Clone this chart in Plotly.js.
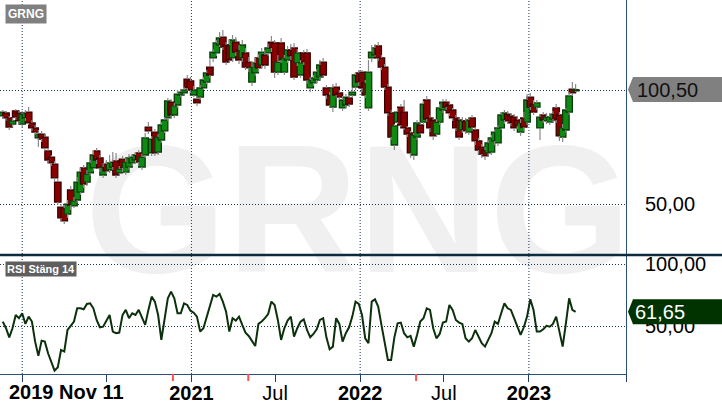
<!DOCTYPE html>
<html>
<head>
<meta charset="utf-8">
<script src="https://cdn.plot.ly/plotly-3.0.1.min.js"></script>
<style>
  html, body { margin: 0; padding: 0; background: #ffffff; }
  #chart { width: 722px; height: 410px; }
</style>
</head>
<body>
<div id="chart"></div>
<script>
// ---------------- data (weekly candles, GRNG) ----------------
const ticker = 'GRNG';
const rsiLabel = 'RSI Stäng 14';
const firstWeek = '2019-11-20';

const open = [
  88.9, 90.2, 88.0, 85.3, 91.1, 90.2, 85.3, 88.0, 90.6, 85.8,
  83.6, 79.2, 80.9, 79.6, 73.5, 70.8, 67.7, 59.8, 48.8, 48.4,
  45.7, 56.3, 49.3, 51.9, 55.4, 66.0, 59.8, 63.8, 66.0, 73.5,
  70.4, 62.9, 67.7, 65.1, 66.4, 69.1, 63.8, 69.9, 64.2, 66.4,
  68.2, 69.5, 72.6, 66.4, 71.7, 84.0, 72.6, 81.8, 73.0, 78.3,
  82.3, 88.0, 95.0, 89.3, 93.7, 98.1, 99.0, 105.1, 104.3, 98.1,
  96.3, 97.2, 101.2, 103.8, 110.4, 114.4, 116.6, 120.1, 123.6, 120.1,
  120.1, 114.4, 121.4, 117.9, 114.4, 116.6, 112.6, 103.8, 107.8, 114.4,
  111.3, 115.7, 116.6, 121.4, 121.0, 108.2, 121.0, 108.2, 113.5, 117.9,
  118.8, 112.2, 106.9, 116.6, 116.6, 101.2, 103.4, 104.7, 106.0, 112.6,
  101.2, 98.1, 92.8, 101.6, 99.0, 92.4, 93.7, 96.8, 98.1, 101.6,
  107.8, 108.2, 103.4, 92.4, 114.4, 115.7, 119.7, 114.4, 110.4, 101.6,
  90.2, 76.1, 86.2, 92.8, 90.6, 83.6, 81.4, 71.7, 79.6, 84.9,
  86.2, 95.9, 88.0, 87.1, 80.9, 86.2, 91.5, 95.0, 93.7, 91.5,
  88.0, 87.1, 82.7, 86.7, 81.8, 88.0, 82.7, 77.9, 75.2, 73.9,
  72.6, 73.0, 77.9, 77.0, 83.6, 87.1, 89.7, 88.9, 88.4, 87.1,
  81.8, 88.0, 86.2, 97.2, 94.1, 92.8, 83.6, 89.3, 86.7, 86.2,
  87.5, 92.4, 89.3, 79.6, 82.7, 90.6, 100.7, 99.9
];
const high = [
  91.5, 91.1, 88.9, 88.0, 91.9, 91.1, 91.1, 91.5, 92.8, 87.1,
  84.9, 82.7, 82.3, 80.9, 74.8, 71.7, 69.1, 61.1, 50.1, 49.7,
  51.9, 58.1, 53.2, 62.0, 66.0, 67.3, 65.1, 69.5, 73.9, 74.8,
  71.7, 68.2, 69.5, 71.7, 73.0, 72.6, 66.9, 71.3, 70.4, 72.1,
  71.7, 73.0, 73.9, 72.1, 81.4, 86.2, 80.1, 83.1, 80.9, 86.2,
  88.4, 96.8, 96.3, 94.6, 100.3, 100.7, 101.6, 106.9, 106.0, 102.1,
  97.7, 102.5, 106.0, 109.1, 114.4, 118.3, 122.3, 125.8, 126.7, 121.4,
  122.3, 124.5, 123.6, 120.1, 122.3, 118.8, 114.8, 112.6, 114.4, 116.1,
  118.8, 117.9, 120.5, 124.1, 122.3, 115.7, 123.2, 115.7, 119.7, 120.5,
  121.0, 118.3, 113.5, 117.9, 118.3, 106.0, 106.9, 109.5, 113.5, 114.4,
  102.5, 99.4, 102.9, 103.4, 100.3, 97.7, 98.5, 98.1, 101.2, 108.2,
  109.1, 109.1, 104.7, 113.5, 120.1, 120.5, 121.4, 115.7, 111.7, 102.9,
  91.5, 85.3, 92.4, 94.1, 95.9, 84.5, 82.3, 81.4, 87.1, 86.2,
  95.5, 97.7, 89.3, 88.4, 87.5, 94.1, 96.3, 96.3, 95.0, 92.4,
  89.3, 88.0, 88.4, 88.0, 88.4, 89.3, 84.0, 79.2, 76.5, 75.2,
  78.3, 80.5, 83.1, 84.9, 90.6, 91.5, 91.1, 90.2, 89.7, 88.4,
  87.5, 90.6, 98.5, 99.0, 95.9, 95.9, 89.7, 90.6, 90.2, 89.7,
  91.1, 94.1, 90.6, 85.3, 92.4, 99.4, 103.8, 102.9
];
const low = [
  88.0, 86.7, 82.7, 84.0, 87.1, 85.3, 84.0, 86.7, 84.9, 82.3,
  80.5, 75.2, 77.4, 73.5, 68.2, 66.9, 60.3, 49.7, 42.7, 41.3,
  44.0, 47.5, 48.4, 50.6, 54.1, 57.2, 58.1, 62.5, 64.7, 67.7,
  64.2, 61.6, 63.3, 63.8, 65.1, 61.6, 62.5, 64.2, 62.9, 65.1,
  66.9, 68.2, 66.9, 65.1, 70.4, 80.9, 71.3, 71.3, 71.7, 77.0,
  81.4, 86.7, 88.0, 88.0, 92.4, 97.2, 98.1, 99.9, 99.0, 97.2,
  93.3, 95.9, 100.3, 102.9, 105.6, 112.6, 115.3, 119.2, 117.9, 111.3,
  112.2, 112.6, 115.3, 111.7, 112.6, 109.1, 108.2, 102.1, 106.5, 108.2,
  110.0, 109.5, 115.3, 117.0, 105.6, 106.9, 112.2, 106.9, 112.2, 113.5,
  104.7, 110.9, 105.6, 111.3, 102.9, 99.4, 102.1, 103.4, 104.7, 105.6,
  96.3, 92.4, 90.6, 96.8, 95.9, 91.1, 92.4, 92.8, 96.8, 100.3,
  102.1, 99.4, 96.8, 91.1, 112.6, 114.8, 113.1, 109.1, 100.3, 88.9,
  78.3, 73.9, 85.3, 84.0, 82.7, 79.6, 70.4, 69.5, 78.3, 80.5,
  84.9, 86.2, 81.8, 78.3, 79.6, 84.9, 90.2, 91.5, 88.9, 86.7,
  82.3, 78.3, 81.4, 80.9, 80.5, 82.3, 76.1, 72.1, 70.4, 69.5,
  70.8, 71.7, 76.1, 75.7, 82.7, 85.3, 85.3, 84.5, 82.3, 83.1,
  80.1, 82.3, 84.9, 91.5, 89.3, 91.5, 78.3, 85.8, 85.3, 84.9,
  86.2, 85.8, 77.9, 77.4, 81.4, 89.3, 97.7, 99.4
];
const close = [
  90.6, 88.0, 84.0, 86.7, 88.4, 86.7, 89.7, 90.2, 85.8, 83.6,
  81.8, 80.9, 78.7, 74.8, 69.5, 68.2, 61.6, 51.0, 44.0, 42.7,
  50.1, 49.7, 51.5, 59.8, 64.2, 58.9, 63.3, 68.2, 71.7, 69.5,
  66.0, 66.4, 64.7, 68.2, 68.6, 62.9, 65.5, 66.0, 68.6, 70.4,
  70.8, 71.7, 68.6, 70.8, 79.2, 82.3, 78.7, 72.6, 79.6, 84.9,
  87.1, 95.5, 89.3, 93.3, 98.5, 99.4, 100.3, 101.2, 100.3, 100.3,
  94.6, 101.2, 104.7, 107.8, 106.9, 117.0, 121.0, 123.2, 119.2, 112.6,
  113.5, 122.3, 117.0, 113.5, 120.1, 110.4, 110.0, 110.4, 112.2, 110.0,
  117.0, 111.3, 118.8, 118.8, 108.2, 112.6, 113.5, 114.4, 117.9, 115.3,
  106.0, 116.6, 112.2, 112.6, 104.7, 104.7, 105.6, 108.2, 111.3, 106.9,
  98.1, 93.7, 101.2, 98.1, 97.2, 95.9, 97.2, 94.1, 99.4, 106.9,
  103.8, 101.2, 98.1, 108.2, 117.0, 118.8, 114.4, 110.4, 101.6, 90.2,
  79.6, 84.5, 90.6, 84.9, 83.6, 80.9, 72.6, 80.5, 85.8, 81.4,
  94.1, 87.5, 83.6, 80.1, 86.2, 92.4, 95.0, 92.8, 90.2, 88.0,
  83.6, 79.6, 86.7, 82.3, 87.1, 84.0, 77.9, 73.9, 72.1, 71.3,
  77.0, 79.2, 81.8, 83.6, 89.3, 90.2, 86.7, 85.8, 83.6, 84.5,
  85.8, 84.0, 95.9, 92.8, 90.6, 94.6, 88.4, 87.1, 88.4, 88.4,
  89.7, 87.1, 80.1, 83.6, 91.5, 97.7, 99.0, 100.5
];
const rsi = [
  53.8, 48.4, 41.1, 48.4, 59.1, 56.5, 60.5, 51.9, 57.8, 53.8,
  37.6, 26.1, 38.4, 37.6, 28.2, 21.5, 14.2, 16.9, 30.9, 29.6,
  47.0, 50.3, 53.8, 64.5, 64.5, 63.7, 68.0, 68.5, 64.5, 55.1,
  49.2, 49.7, 54.6, 59.1, 45.7, 44.4, 44.9, 59.1, 63.2, 56.5,
  60.5, 59.1, 63.2, 56.5, 51.1, 63.2, 73.9, 69.9, 59.1, 39.0,
  56.5, 72.6, 78.0, 72.6, 60.5, 60.5, 68.5, 67.2, 62.6, 61.0,
  57.8, 45.7, 48.4, 57.8, 65.9, 75.3, 73.9, 76.1, 69.9, 61.8,
  45.7, 56.5, 54.6, 57.8, 51.1, 44.9, 42.2, 38.4, 34.1, 51.9,
  53.8, 56.5, 59.9, 69.9, 67.2, 55.1, 39.0, 48.4, 54.6, 57.8,
  41.7, 48.4, 53.8, 55.6, 47.0, 41.1, 43.8, 47.6, 55.1, 56.5,
  41.1, 31.5, 33.6, 56.5, 51.9, 37.6, 44.4, 49.2, 57.8, 69.9,
  68.0, 59.1, 40.3, 36.3, 69.9, 71.8, 65.9, 51.1, 36.3, 22.8,
  22.8, 41.1, 52.4, 53.0, 44.4, 41.1, 42.2, 33.6, 43.0, 53.8,
  56.5, 64.5, 63.2, 48.4, 40.3, 43.8, 53.0, 53.8, 67.2, 63.2,
  55.1, 53.0, 51.9, 40.3, 37.6, 40.3, 47.0, 41.1, 36.3, 33.6,
  39.5, 44.4, 53.8, 51.9, 60.5, 68.5, 64.5, 63.2, 56.5, 49.7,
  43.0, 49.2, 57.8, 71.8, 63.2, 45.7, 45.7, 47.6, 50.3, 49.7,
  51.9, 57.8, 44.4, 33.6, 52.4, 72.6, 63.2, 61.65
];

// axis labels / marks
const tickDates = ['2020-01-01','2020-07-01','2021-01-01','2021-07-01','2022-01-01','2022-07-01','2023-01-01','2023-07-30'];
const tickLabels = ['', '', '<b>2021</b>', 'Jul', '<b>2022</b>', 'Jul', '<b>2023</b>', ''];
const startLabel = '2019 Nov 11';
const yearLines = ['2020-01-01','2021-01-01','2022-01-01','2023-01-01'];
const redMarks = ['2020-11-22','2021-05-04','2022-05-02'];
const priceTicks = [50, 100];
const priceTickText = ['50,00', ''];   // the 100 label sits under the last-price tag
const rsiTicks = [50, 100];

// ---------------- build ----------------
const d0 = Date.parse(firstWeek + 'T00:00:00Z');
const dates = close.map((_, i) => new Date(d0 + i * 7 * 864e5).toISOString().slice(0, 10));

const upFill = '#0e8a12', upLine = '#0b3a0b';
const dnFill = '#880000', dnLine = '#3a0000';

const isUp = close.map((c, i) => c >= open[i]);
const bodyBase = close.map((c, i) => Math.min(c, open[i]));
const bodyH = close.map((c, i) => Math.max(Math.abs(c - open[i]), 0.35));

const wx = [], wy = [];
dates.forEach((d, i) => {
  const top = Math.max(open[i], close[i]), bot = Math.min(open[i], close[i]);
  wx.push(d, d, null, d, d, null);
  wy.push(high[i], top, null, bot, low[i], null);
});

const PX_H = 374, PX_W = 626;
const split = (PX_H - 255) / PX_H;
const gridCol = '#1b3550';
const axisCol = '#2b4f77';
const FONT = 'Liberation Sans, Arial, sans-serif';

const traces = [
  {
    type: 'scatter', mode: 'lines', x: wx, y: wy, xaxis: 'x', yaxis: 'y',
    line: { color: '#8a8a8a', width: 1.2 }, hoverinfo: 'skip', showlegend: false, connectgaps: false
  },
  {
    type: 'bar', x: dates, y: bodyH, base: bodyBase, xaxis: 'x', yaxis: 'y',
    width: 14 * 864e5,
    marker: {
      color: isUp.map(u => u ? upFill : dnFill),
      line: { color: isUp.map(u => u ? upLine : dnLine), width: 1.3 }
    },
    hoverinfo: 'skip', showlegend: false
  },
  {
    type: 'scatter', mode: 'lines', x: dates, y: rsi, xaxis: 'x', yaxis: 'y2',
    line: { color: '#0b300b', width: 2 }, hoverinfo: 'skip', showlegend: false
  }
];

const lastClose = close[close.length - 1];
const lastRsi = rsi[rsi.length - 1];
const fmt = v => v.toFixed(2).replace('.', ',');

const shapes = [];
// watermark
shapes.push({
  type: 'rect', xref: 'paper', yref: 'paper', x0: 0.144, x1: 1.0,
  y0: (PX_H - 262) / PX_H, y1: (PX_H - 122) / PX_H,
  line: { width: 0 }, fillcolor: 'rgba(0,0,0,0)', layer: 'below',
  label: { text: ticker, textposition: 'middle center',
           font: { family: FONT, size: 182, color: '#f0f0f0', weight: 700 } }
});
// year gridlines
yearLines.forEach(d => shapes.push({
  type: 'line', xref: 'x', yref: 'paper', x0: d, x1: d, y0: 0, y1: 1,
  line: { color: gridCol, width: 1, dash: '1px,2px' }, layer: 'above'
}));
// red event marks on the time axis
redMarks.forEach(d => shapes.push({
  type: 'line', xref: 'x', yref: 'paper', x0: d, x1: d, y0: 0, y1: -7 / PX_H,
  line: { color: '#ff5050', width: 2 }
}));
// panel separator
shapes.push({
  type: 'line', xref: 'paper', yref: 'paper', x0: 0, x1: 722 / PX_W, y0: split, y1: split,
  line: { color: '#0d2b3e', width: 2.5 }, layer: 'above'
});
// price tags
const tagPath = 'M 2,0 L 7,12.5 L 96,12.5 L 96,-12.5 L 7,-12.5 Z';
shapes.push({
  type: 'path', xref: 'paper', yref: 'y', xsizemode: 'pixel', ysizemode: 'pixel',
  xanchor: 1, yanchor: lastClose, path: tagPath, fillcolor: '#808080',
  line: { width: 0 }, layer: 'above'
});
shapes.push({
  type: 'path', xref: 'paper', yref: 'y2', xsizemode: 'pixel', ysizemode: 'pixel',
  xanchor: 1, yanchor: lastRsi, path: tagPath, fillcolor: '#003300',
  line: { width: 0 }, layer: 'above'
});

const annotations = [
  { xref: 'paper', yref: 'paper', x: 5 / PX_W, y: 1 - 4 / PX_H, xanchor: 'left', yanchor: 'top',
    text: '<b>' + ticker + '</b>', showarrow: false, bgcolor: '#808080', borderpad: 2,
    font: { family: FONT, size: 12, color: '#ffffff' } },
  { xref: 'paper', yref: 'paper', x: 5 / PX_W, y: (PX_H - 261) / PX_H, xanchor: 'left', yanchor: 'top',
    text: '<b>' + rsiLabel + '</b>', showarrow: false, bgcolor: '#5e5e5e', borderpad: 1,
    font: { family: FONT, size: 11, color: '#ffffff' } },
  { xref: 'paper', yref: 'paper', x: 7 / PX_W, y: (PX_H - 392) / PX_H, xanchor: 'left', yanchor: 'middle',
    text: '<b>' + startLabel + '</b>', showarrow: false,
    font: { family: FONT, size: 20, color: '#000000' } },
  { xref: 'paper', yref: 'y', x: 635 / PX_W, y: lastClose, xanchor: 'left', yanchor: 'middle',
    text: fmt(lastClose), showarrow: false, font: { family: FONT, size: 20, color: '#111111' } },
  { xref: 'paper', yref: 'y2', x: 633 / PX_W, y: lastRsi, xanchor: 'left', yanchor: 'middle',
    text: fmt(lastRsi), showarrow: false, font: { family: FONT, size: 20, color: '#ffffff' } }
];

const yCommon = {
  side: 'right', showgrid: true, gridcolor: gridCol, griddash: '1px,2px', gridwidth: 1,
  zeroline: false, ticks: '', tickformat: '.2f', ticklabelstandoff: 14,
  tickfont: { family: FONT, size: 20, color: '#000000' },
  showline: true, linecolor: axisCol, linewidth: 1, fixedrange: true
};

const layout = {
  width: 722, height: 410,
  margin: { l: 0, r: 96, t: 0, b: 36, pad: 0 },
  paper_bgcolor: '#ffffff', plot_bgcolor: 'rgba(0,0,0,0)',
  separators: ',.',
  showlegend: false,
  font: { family: FONT, color: '#000000' },
  bargap: 0,
  xaxis: {
    type: 'date', anchor: 'y2', range: ['2019-11-14', '2023-07-30'],
    tickmode: 'array', tickvals: tickDates, ticktext: tickLabels,
    ticks: 'outside', ticklen: 7, tickwidth: 1, tickcolor: '#1f3f66',
    ticklabelstandoff: -6,
    tickfont: { family: FONT, size: 20, color: '#000000' },
    showgrid: false, zeroline: false, showline: true, linecolor: axisCol, linewidth: 1,
    fixedrange: true
  },
  yaxis: Object.assign({}, yCommon, {
    domain: [split, 1], range: [27.7, 139.9], tickmode: 'array',
    tickvals: priceTicks, ticktext: priceTickText, anchor: 'x'
  }),
  yaxis2: Object.assign({}, yCommon, {
    domain: [0, split], range: [11.5, 107.5], tickmode: 'array', tickvals: rsiTicks, anchor: 'x'
  }),
  shapes: shapes,
  annotations: annotations
};

Plotly.newPlot('chart', traces, layout, { staticPlot: true, displayModeBar: false });
</script>
</body>
</html>
